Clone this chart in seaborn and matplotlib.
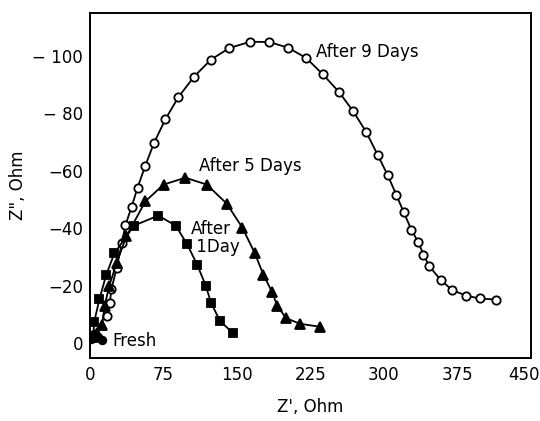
import matplotlib
matplotlib.use("Agg")
import matplotlib.pyplot as plt
import matplotlib.transforms as mtrans
import seaborn as sns
import pandas as pd

# ---- data (Z' in Ohm, -Z'' in Ohm) ----
fresh_x = [1, 4, 8, 12]
fresh_y = [1.5, 3.0, 2.0, 1.0]

day1_x = [3.2, 4.2, 9.6, 16.6, 24.8, 44.9, 69.7, 87.4, 99.0, 109.3, 118.1, 123.5, 132.7, 145.7]
day1_y = [1.7, 7.2, 15.3, 23.8, 31.2, 40.9, 44.4, 40.9, 34.5, 27.3, 20.0, 14.0, 7.6, 3.5]

day5_x = [7.1, 12.4, 14.9, 19.5, 27.2, 37.1, 56.6, 75.0, 97.3, 119.2, 139.4, 155.6,
          168.0, 176.9, 185.7, 191.0, 199.9, 214.0, 235.2]
day5_y = [3.5, 6.4, 12.8, 19.8, 27.9, 37.2, 49.4, 55.2, 57.6, 55.2, 48.6, 40.1,
          31.4, 23.8, 17.8, 13.0, 8.7, 6.7, 5.6]

day9_x = [17.0, 20.2, 21.9, 27.2, 32.5, 36.1, 42.4, 48.5, 56.2, 65.4, 76.8, 90.2,
          106.1, 123.5, 142.2, 163.4, 182.9, 202.3, 220.7, 237.7, 254.3, 268.5,
          281.9, 293.6, 303.9, 312.7, 320.1, 327.9, 335.0, 340.3, 346.3, 358.0,
          369.7, 383.8, 397.6, 414.6]
day9_y = [9.3, 14.0, 18.8, 26.2, 34.9, 41.0, 47.4, 54.1, 61.6, 69.8, 77.9, 85.7,
          92.8, 98.8, 102.8, 105.0, 104.9, 102.9, 99.3, 93.6, 87.4, 80.8,
          73.5, 65.5, 58.4, 51.5, 45.6, 39.5, 35.1, 30.8, 26.7, 21.9,
          18.4, 16.5, 15.5, 15.1]

x_ticks = [0, 75, 150, 225, 300, 375, 450]
y_ticks = [0, 20, 40, 60, 80, 100]
y_tick_labels = ["0", "\u221220", "\u221240", "\u221260", "\u2212 80", "\u2212 100"]

sns.set_theme(style="white")
plt.rcParams["font.family"] = ["DejaVu Sans"]
plt.rcParams["text.color"] = "black"
plt.rcParams["axes.labelcolor"] = "black"

fig = plt.figure(figsize=(5.40, 4.21), dpi=100)
ax = fig.add_axes([0.1667, 0.150, 0.8166, 0.819])

series = [
    (day9_x, day9_y, "o", "white", 6.0),
    (day5_x, day5_y, "^", "black", 6.5),
    (day1_x, day1_y, "s", "black", 5.8),
    (fresh_x, fresh_y, "o", "black", 5.5),
]
for xs, ys, mk, fc, ms in series:
    df = pd.DataFrame({"x": xs, "y": ys})
    sns.lineplot(data=df, x="x", y="y", sort=False, ax=ax, color="black",
                 linewidth=1.3, marker=mk, markersize=ms, markerfacecolor=fc,
                 markeredgecolor="black", markeredgewidth=1.3)

ax.set_xlim(0, 450)
ax.set_ylim(-5.2, 115)
ax.set_xticks(x_ticks)
ax.set_xticklabels([str(v) for v in x_ticks])
ax.set_yticks(y_ticks)
ax.set_yticklabels(y_tick_labels)
ax.tick_params(axis="both", direction="in", length=9, width=1.3, labelsize=12,
               colors="black", pad=5)
ax.tick_params(axis="x", pad=6)
for s in ax.spines.values():
    s.set_color("black")
    s.set_linewidth(1.4)

# keep the last x tick label inside the figure
last = ax.get_xticklabels()[-1]
last.set_transform(last.get_transform() +
                   mtrans.ScaledTranslation(-0.07, 0, fig.dpi_scale_trans))

ax.set_xlabel("Z', Ohm", fontsize=12, labelpad=10)
ax.set_ylabel('Z", Ohm', fontsize=12, labelpad=4)

ax.text(231, 101.5, "After 9 Days", fontsize=12, va="center", ha="left")
ax.text(111, 61.6, "After 5 Days", fontsize=12, va="center", ha="left")
ax.text(103, 36.5, "After\n 1Day", fontsize=12, va="center", ha="left", linespacing=1.0)
ax.text(23, 0.5, "Fresh", fontsize=12, va="center", ha="left")

fig.savefig("out.png", dpi=100)
